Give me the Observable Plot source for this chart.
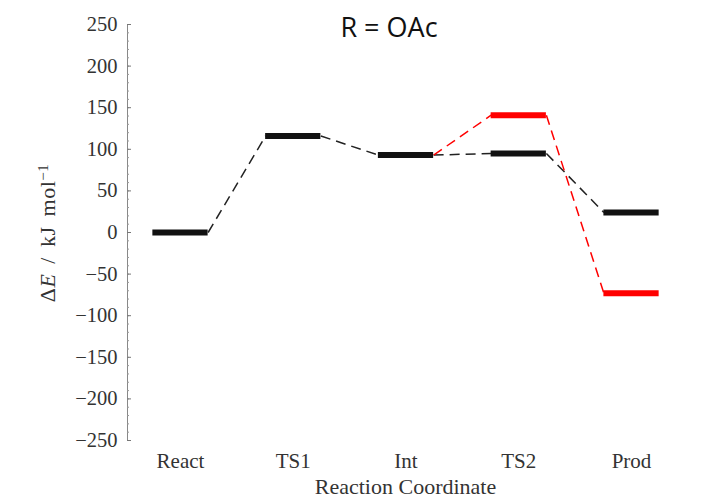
<!DOCTYPE html>
<html>
<head>
<meta charset="utf-8">
<script src="https://cdn.jsdelivr.net/npm/d3@7"></script>
<script src="https://cdn.jsdelivr.net/npm/@observablehq/plot@0.6"></script>
<style>
  html, body { margin: 0; padding: 0; background: #fff; }
</style>
</head>
<body>
<div id="chart"></div>
<script>
const categories = ["React", "TS1", "Int", "TS2", "Prod"];
const blackEnergies = [0, 116, 93, 95, 24];
const redEnergies = [null, null, 93, 141, -73];
const yTicks = [-250, -200, -150, -100, -50, 0, 50, 100, 150, 200, 250];
const title = "R = OAc";
const xLabel = "Reaction Coordinate";

const halfWidth = 0.245;
function levels(values, color) {
  return values.map((v, i) => ({i, v, color})).filter(d => d.v !== null);
}
function links(values, color) {
  const out = [];
  for (let i = 0; i < values.length - 1; i++) {
    if (values[i] !== null && values[i + 1] !== null) {
      out.push({x1: i + halfWidth, y1: values[i], x2: i + 1 - halfWidth, y2: values[i + 1], color});
    }
  }
  return out;
}
const black = "#111";
const red = "#ff0000";
const lvBlack = levels(blackEnergies, black);
const lvRed = levels(redEnergies, red).filter(d => d.i !== 2);
const lkBlack = links(blackEnergies, "#222");
const lkRed = links(redEnergies, red);

const serif = "'Liberation Serif', 'DejaVu Serif', serif";
const minusFmt = d => (d < 0 ? "\u2212" + Math.abs(d) : String(d));

const plot = Plot.plot({
  width: 719,
  height: 499,
  marginLeft: 127,
  marginRight: 36,
  marginTop: 24,
  marginBottom: 59,
  x: {domain: [-0.47, 4.461], axis: null},
  y: {domain: [-250, 250], axis: null},
  style: {fontFamily: serif, background: "#fff", color: "#333"},
  marks: [
    Plot.ruleX([-0.47], {y1: -250, y2: 250, stroke: "#888", strokeWidth: 1}),
    Plot.axisY({ticks: d3.range(-250, 251, 10), tickSize: 2, dx: 2, tickFormat: () => "", stroke: "#999"}),
    Plot.axisY({ticks: yTicks, tickSize: 4, dx: 4, tickPadding: 10, tickFormat: minusFmt, fontSize: 20.5, stroke: "#777", fill: "#333", label: null}),
    Plot.axisX({ticks: d3.range(categories.length), tickFormat: i => categories[i], tickSize: 0, tickPadding: 13, fontSize: 21, fill: "#333", label: null}),
    Plot.text([xLabel], {frameAnchor: "bottom", dy: 46, fontSize: 22, fill: "#333", lineAnchor: "middle", letterSpacing: 1.3}),
    Plot.link(lkBlack, {x1: "x1", y1: "y1", x2: "x2", y2: "y2", stroke: "color", strokeWidth: 1.5, strokeDasharray: "10,6"}),
    Plot.link(lkRed, {x1: "x1", y1: "y1", x2: "x2", y2: "y2", stroke: "color", strokeWidth: 1.5, strokeDasharray: "10,6"}),
    Plot.ruleY(lvBlack, {y: "v", x1: d => d.i - halfWidth, x2: d => d.i + halfWidth, stroke: "color", strokeWidth: 6}),
    Plot.ruleY(lvRed, {y: "v", x1: d => d.i - halfWidth, x2: d => d.i + halfWidth, stroke: "color", strokeWidth: 6}),
    Plot.text([title], {frameAnchor: "top", dx: -16.5, dy: 4, fontFamily: "'Open Sans', sans-serif", fontSize: 27, fill: "#111", lineAnchor: "middle"})
  ]
});

// y-axis label with italic E and superscript
const svg = d3.select(plot);
const yl = svg.append("text")
  .attr("transform", "translate(55,233) rotate(-90)")
  .attr("text-anchor", "middle")
  .attr("font-family", serif)
  .attr("font-size", 22)
  .attr("word-spacing", 4)
  .attr("letter-spacing", 0.5)
  .attr("fill", "#333");
yl.append("tspan").text("\u0394");
yl.append("tspan").attr("font-style", "italic").text("E");
yl.append("tspan").text(" / kJ mol");
yl.append("tspan").attr("dy", "-0.45em").attr("font-size", 15).text("\u22121");

document.getElementById("chart").appendChild(plot);
</script>
</body>
</html>
